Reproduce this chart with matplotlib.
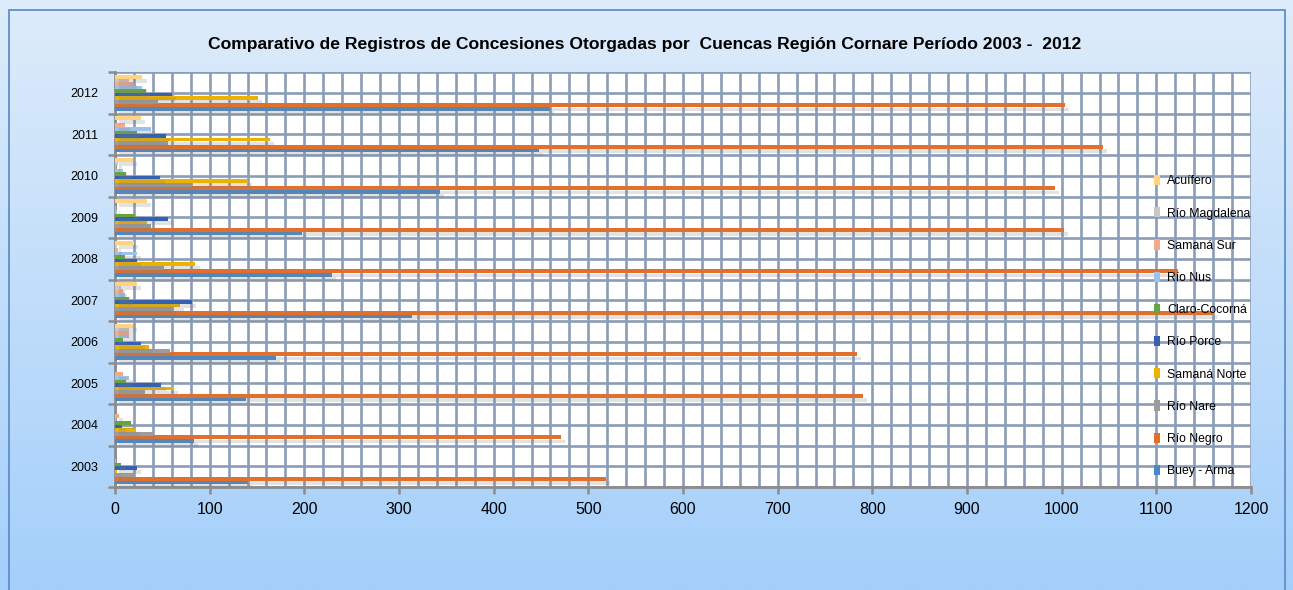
import numpy as np
import matplotlib
matplotlib.use("Agg")
import matplotlib.pyplot as plt
import matplotlib.patheffects as pe
from matplotlib.patches import Rectangle

years = ['2003', '2004', '2005', '2006', '2007', '2008', '2009', '2010', '2011', '2012']
series_names = ['Buey - Arma', 'Río Negro', 'Río Nare', 'Samaná Norte', 'Río Porce',
                'Claro-Cocorná', 'Río Nus', 'Samaná Sur', 'Río Magdalena', 'Acuífero']
buey_arma = [140, 83, 138, 170, 314, 229, 198, 343, 448, 459]
rio_negro = [519, 471, 790, 784, 1160, 1123, 1002, 993, 1044, 1003]
rio_nare = [20, 40, 32, 58, 60, 52, 38, 81, 56, 45]
samana_norte = [2, 22, 62, 36, 69, 85, 34, 140, 164, 151]
rio_porce = [23, 7, 49, 27, 81, 23, 56, 48, 54, 60]
claro_cocorna = [6, 17, 12, 8, 15, 11, 21, 12, 23, 33]
rio_nus = [1, 1, 15, 15, 11, 23, 2, 8, 38, 29]
samana_sur = [0, 4, 8, 15, 8, 3, 1, 1, 11, 19]
rio_magdalena = [0, 0, 0, 15, 6, 2, 0, 3, 0, 15]
acuifero = [0, 0, 0, 19, 23, 20, 34, 19, 27, 29]
x_ticks = [0, 100, 200, 300, 400, 500, 600, 700, 800, 900, 1000, 1100, 1200]

all_series = [buey_arma, rio_negro, rio_nare, samana_norte, rio_porce,
              claro_cocorna, rio_nus, samana_sur, rio_magdalena, acuifero]
colors = ['#4A88C8', '#E0702C', '#9C9C9C', '#EDB100', '#3461B0',
          '#64A53E', '#9CC2E8', '#F3A98A', '#C8C8C8', '#FFD37F']

plt.rcParams['font.family'] = ['Liberation Sans', 'DejaVu Sans']

fig = plt.figure(figsize=(12.93, 5.90), dpi=100)

# background gradient
bg = fig.add_axes([0, 0, 1, 1], zorder=-10)
grad = np.linspace(0, 1, 256).reshape(-1, 1)
top = np.array([222, 236, 251]) / 255
bot = np.array([164, 207, 250]) / 255
img = top[None, None, :] * (1 - grad[:, :, None]) + bot[None, None, :] * grad[:, :, None]
bg.imshow(img, aspect='auto', extent=[0, 1, 0, 1], origin='upper')
bg.set_xlim(0, 1)
bg.set_ylim(0, 1)
bg.axis('off')
bg.add_patch(Rectangle((9 / 1293, -0.05), 1276 / 1293, 1.05 - 10 / 590,
                       fill=False, edgecolor='#5E8FC8', linewidth=1.3))

ax = fig.add_axes([115 / 1293, 1 - 487 / 590, (1251 - 115) / 1293, (487 - 72) / 590])
ax.set_facecolor('white')

n = len(all_series)
step = 0.086
y0 = np.arange(len(years)) + 0.5 - step * (n - 1) / 2
for k, (vals, col) in enumerate(zip(all_series, colors)):
    ax.barh(y0 + k * step, vals, height=step * 1.05, color=col, edgecolor='none',
            zorder=3 + k * 0.01,
            path_effects=[pe.SimplePatchShadow(offset=(3, -3), shadow_rgbFace='#7f7f7f', alpha=0.22),
                          pe.Normal()],
            label=series_names[k])

ax.set_xlim(0, 1200)
ax.set_ylim(0, len(years))
ax.set_xticks(x_ticks)
ax.set_xticks(np.arange(0, 1201, 20), minor=True)
ax.set_yticks(np.arange(len(years)) + 0.5)
ax.set_yticklabels(years)
ax.set_yticks(np.arange(0, len(years) + 0.01, 1), minor=True)

ax.grid(True, which='both', axis='x', color='#8A9CB8', linewidth=1.9, zorder=1)
ax.grid(True, which='major', axis='y', color='#8A9CB8', linewidth=1.9, zorder=1)
ax.grid(True, which='minor', axis='y', color='#8A9CB8', linewidth=1.9, zorder=1)
ax.set_axisbelow(True)

ax.tick_params(axis='x', which='major', length=5, width=1.8, color='#8C8C8C',
               labelsize=11.5, pad=6, direction='out')
ax.tick_params(axis='x', which='minor', length=0)
ax.tick_params(axis='y', which='major', length=0, labelsize=9, pad=12)
ax.tick_params(axis='y', which='minor', length=5, width=1.8, color='#8C8C8C', direction='out')

for s in ['top', 'right']:
    ax.spines[s].set_visible(False)
for s in ['left', 'bottom']:
    ax.spines[s].set_color('#8C8C8C')
    ax.spines[s].set_linewidth(2)

handles, labels = ax.get_legend_handles_labels()
leg = ax.legend(handles[::-1], labels[::-1], loc='upper left',
                bbox_to_anchor=(1154 / 1293, 1 - 175 / 590), bbox_transform=fig.transFigure,
                frameon=False, fontsize=8.8, handlelength=0.5, handleheight=0.9,
                handletextpad=0.6, labelspacing=1.63, borderaxespad=0, borderpad=0)
for h in leg.legend_handles:
    h.set_path_effects([])

fig.text(645 / 1293, 1 - 45 / 590,
         'Comparativo de Registros de Concesiones Otorgadas por  Cuencas Región Cornare Período 2003 -  2012',
         ha='center', va='center', fontsize=12.6, fontweight='bold')

fig.savefig('out.png', dpi=100)
